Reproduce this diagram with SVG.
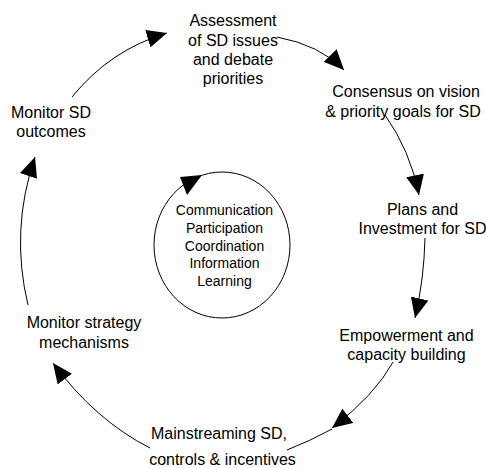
<svg xmlns="http://www.w3.org/2000/svg" width="486" height="468" viewBox="0 0 486 468">
<style>
text{font-family:"Liberation Sans",Arial,sans-serif;font-size:16px;fill:#000;text-anchor:middle}
.in{font-size:14px}
.c{fill:none;stroke:#000;stroke-width:1}
.head{fill:#000;stroke:none}
</style>
<defs>
<marker id="ah" viewBox="0 0 20 18" refX="20" refY="9" markerWidth="20" markerHeight="18" markerUnits="userSpaceOnUse" orient="auto">
<path d="M0,0 L20,9 L0,18 z" class="head"/>
</marker>
</defs>
<rect width="486" height="468" fill="#fff"/>
<g id="connectors">
<path class="c" d="M72,97 Q110,50 167,33" marker-end="url(#ah)"/>
<path class="c" d="M277,37 Q320,45 344,70" marker-end="url(#ah)"/>
<path class="c" d="M385,115 Q410,150 419,195" marker-end="url(#ah)"/>
<path class="c" d="M425,238 Q424,280 415,318" marker-end="url(#ah)"/>
<path class="c" d="M393,362 Q375,395 332,428" marker-end="url(#ah)"/>
<path class="c" d="M332,429 Q310,441 287,450"/>
<path class="c" d="M150,448 Q95,420 53,363" marker-end="url(#ah)"/>
<path class="c" d="M28,305 Q10,230 35,157" marker-end="url(#ah)"/>
</g>
<g id="node-assessment">
<text x="233" y="26">Assessment</text>
<text x="233" y="45.5">of SD issues</text>
<text x="233" y="65">and debate</text>
<text x="233" y="84">priorities</text>
</g>
<g id="node-consensus">
<text x="406" y="97">Consensus on vision</text>
<text x="403" y="117">&amp; priority goals for SD</text>
</g>
<g id="node-plans">
<text x="422.5" y="215">Plans and</text>
<text x="422.5" y="233.5">Investment for SD</text>
</g>
<g id="node-empowerment">
<text x="406.5" y="341">Empowerment and</text>
<text x="406.5" y="360">capacity building</text>
</g>
<g id="node-mainstreaming">
<text x="219" y="439">Mainstreaming SD,</text>
<text x="222.5" y="465">controls &amp; incentives</text>
</g>
<g id="node-monitor-strategy">
<text x="84" y="328">Monitor strategy</text>
<text x="84" y="348">mechanisms</text>
</g>
<g id="node-monitor-outcomes">
<text x="51" y="118">Monitor SD</text>
<text x="51" y="137">outcomes</text>
</g>
<g id="node-center">
<ellipse class="c" cx="222" cy="245" rx="68" ry="73"/>
<polygon class="head" points="180,177 202,175 187,195"/>
<text class="in" x="224.5" y="215">Communication</text>
<text class="in" x="224.5" y="233">Participation</text>
<text class="in" x="224.5" y="250.5">Coordination</text>
<text class="in" x="224.5" y="268">Information</text>
<text class="in" x="224.5" y="285.5">Learning</text>
</g>
</svg>
